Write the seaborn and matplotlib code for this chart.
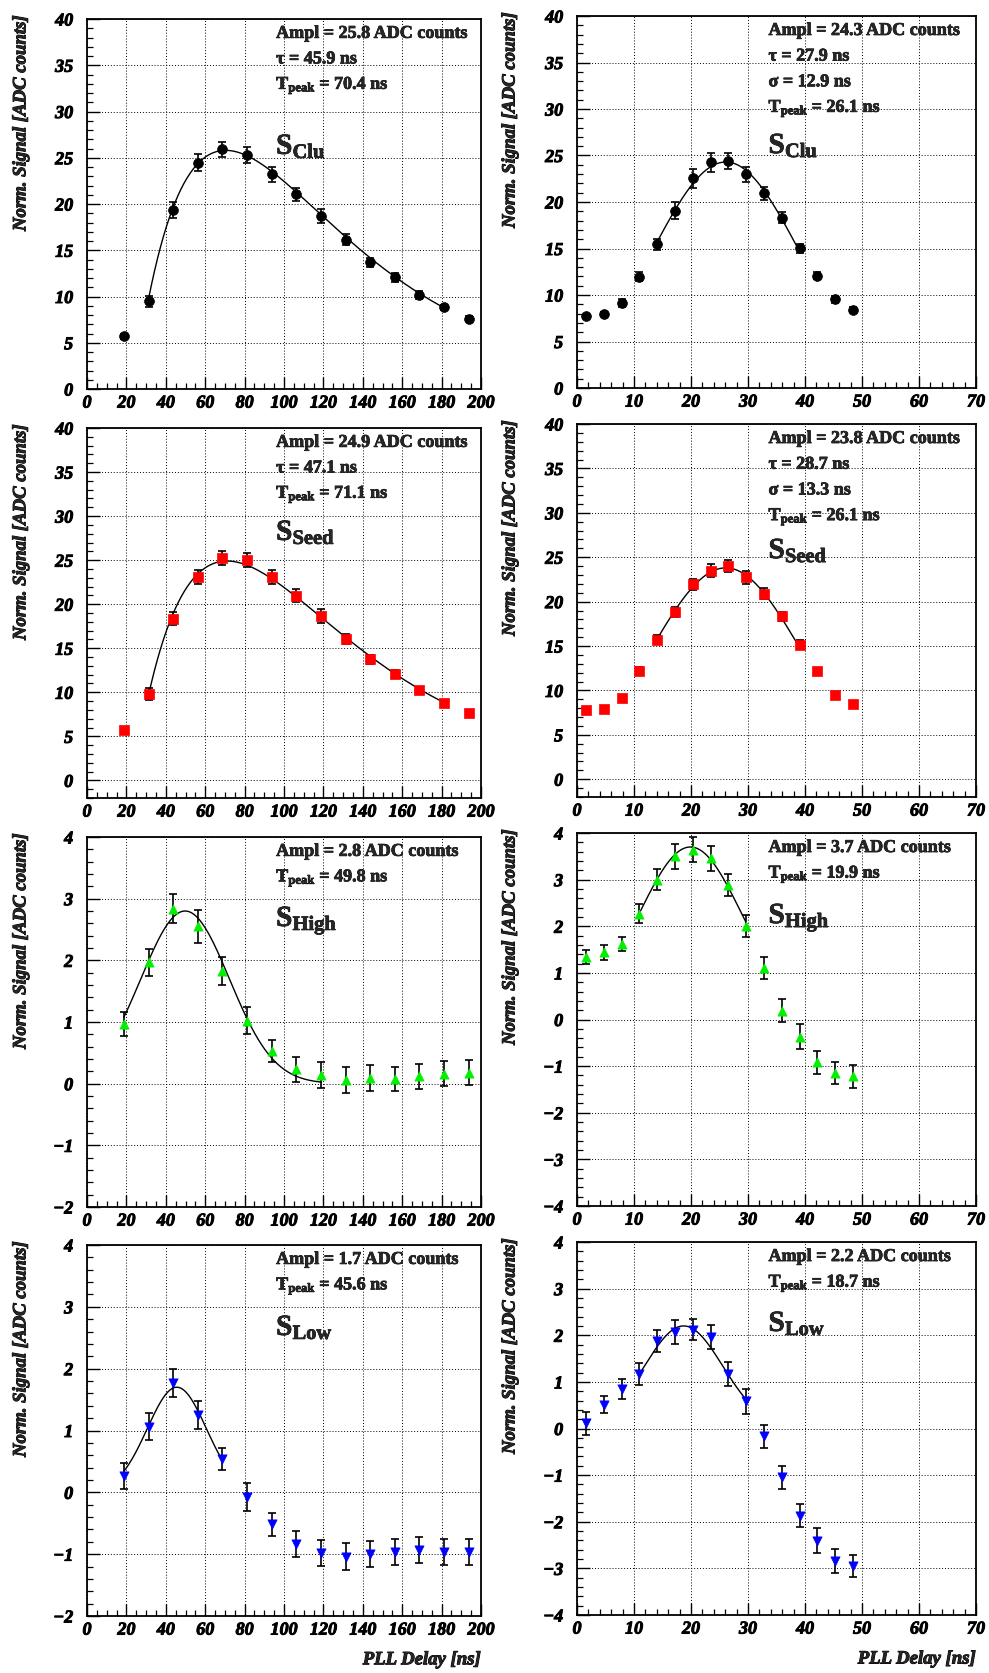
import numpy as np
import pandas as pd
import matplotlib
matplotlib.use("Agg")
import matplotlib.pyplot as plt
import matplotlib.patheffects as pe
import seaborn as sns
from matplotlib.ticker import MultipleLocator
from matplotlib.font_manager import FontProperties

sns.set_theme(style="white")
plt.rcParams['font.family'] = ['Liberation Serif', 'DejaVu Serif']
plt.rcParams['mathtext.fontset'] = 'custom'
plt.rcParams['mathtext.rm'] = 'Liberation Serif:bold'
plt.rcParams['mathtext.it'] = 'Liberation Serif:bold:italic'
plt.rcParams['mathtext.bf'] = 'Liberation Serif:bold'

# ---------------- data ----------------
delay_left = [18.75, 31.25, 43.75, 56.25, 68.75, 81.25, 93.75, 106.25, 118.75,
              131.25, 143.75, 156.25, 168.75, 181.25, 193.75]
delay_right = [1.5625, 4.6875, 7.8125, 10.9375, 14.0625, 17.1875, 20.3125, 23.4375,
               26.5625, 29.6875, 32.8125, 35.9375, 39.0625, 42.1875, 45.3125, 48.4375]

clu_left = [5.69, 9.47, 19.37, 24.48, 25.92, 25.3, 23.2, 21.06, 18.72, 16.13, 13.7, 12.06, 10.19, 8.82, 7.6]
clu_left_err = [0.25, 0.6, 0.9, 0.9, 0.8, 0.9, 0.85, 0.7, 0.75, 0.6, 0.5, 0.5, 0.45, 0.3, 0.3]
clu_right = [7.69, 7.94, 9.12, 11.95, 15.46, 19.07, 22.54, 24.26, 24.36, 22.97, 20.93, 18.32, 15.03, 12.09, 9.52, 8.41]
clu_right_err = [0.2, 0.2, 0.43, 0.48, 0.6, 0.9, 1.0, 1.0, 0.86, 0.8, 0.7, 0.6, 0.5, 0.4, 0.35, 0.25]

seed_left = [5.69, 9.78, 18.35, 23.05, 25.21, 25.02, 23.05, 20.97, 18.65, 16.08, 13.73, 12.13, 10.24, 8.83, 7.66]
seed_left_err = [0.25, 0.7, 0.75, 0.8, 0.8, 0.8, 0.8, 0.7, 0.75, 0.55, 0.5, 0.45, 0.4, 0.3, 0.3]
seed_right = [7.75, 7.94, 9.14, 12.15, 15.73, 18.85, 21.94, 23.48, 24.01, 22.73, 20.88, 18.33, 15.16, 12.15, 9.52, 8.5]
seed_right_err = [0.2, 0.2, 0.35, 0.45, 0.5, 0.6, 0.6, 0.7, 0.7, 0.7, 0.6, 0.55, 0.5, 0.4, 0.3, 0.25]

high_left = [0.97, 1.97, 2.84, 2.55, 1.83, 1.02, 0.53, 0.23, 0.146, 0.054, 0.092, 0.076, 0.12, 0.16, 0.18]
high_left_err = [0.19, 0.22, 0.23, 0.27, 0.23, 0.22, 0.18, 0.21, 0.21, 0.21, 0.21, 0.2, 0.2, 0.2, 0.2]
high_right = [1.34, 1.44, 1.62, 2.27, 3.0, 3.5, 3.64, 3.46, 2.88, 2.01, 1.10, 0.19, -0.365, -0.92, -1.15, -1.22]
high_right_err = [0.16, 0.16, 0.16, 0.2, 0.23, 0.27, 0.27, 0.27, 0.24, 0.23, 0.23, 0.24, 0.27, 0.24, 0.24, 0.25]

low_left = [0.26, 1.06, 1.77, 1.25, 0.545, -0.076, -0.52, -0.83, -0.98, -1.04, -0.99, -0.97, -0.94, -0.97, -0.96]
low_left_err = [0.21, 0.22, 0.23, 0.23, 0.18, 0.22, 0.19, 0.21, 0.21, 0.22, 0.21, 0.21, 0.21, 0.21, 0.21]
low_right = [0.11, 0.51, 0.85, 1.17, 1.88, 2.07, 2.12, 1.96, 1.17, 0.58, -0.17, -1.05, -1.87, -2.41, -2.84, -2.95]
low_right_err = [0.25, 0.18, 0.22, 0.24, 0.24, 0.25, 0.23, 0.25, 0.25, 0.27, 0.24, 0.25, 0.25, 0.27, 0.25, 0.23]

# fit parameters (as printed on the chart, plus a small pedestal) and fit ranges
fit_clu_left = dict(kind="crrc", ampl=25.8, tau=45.9, tpeak=70.4, base=1.3, rng=(31.25, 181.25))
fit_clu_right = dict(kind="gaus", ampl=24.3, sigma=12.9, tpeak=26.1, rng=(14.0625, 39.0625))
fit_seed_left = dict(kind="crrc", ampl=24.9, tau=47.1, tpeak=71.1, base=1.2, rng=(31.25, 181.25))
fit_seed_right = dict(kind="gaus", ampl=23.8, sigma=13.3, tpeak=26.1, rng=(14.0625, 39.0625))
fit_high_left = dict(kind="gaus", ampl=2.8, sigma=22.5, tpeak=49.8, rng=(18.75, 118.75))
fit_high_right = dict(kind="gaus", ampl=3.7, sigma=9.1, tpeak=19.9, rng=(10.9375, 29.6875))
fit_low_left = dict(kind="gaus", ampl=1.7, sigma=15.0, tpeak=45.6, rng=(18.75, 68.75))
fit_low_right = dict(kind="gaus", ampl=2.2, sigma=6.9, tpeak=18.7, rng=(10.9375, 29.6875))

text_clu_left = ["Ampl = 25.8 ADC counts", r"τ = 45.9 ns", r"T$_{\rm peak}$ = 70.4 ns"]
text_clu_right = ["Ampl = 24.3 ADC counts", r"τ = 27.9 ns", r"σ = 12.9 ns", r"T$_{\rm peak}$ = 26.1 ns"]
text_seed_left = ["Ampl = 24.9 ADC counts", r"τ = 47.1 ns", r"T$_{\rm peak}$ = 71.1 ns"]
text_seed_right = ["Ampl = 23.8 ADC counts", r"τ = 28.7 ns", r"σ = 13.3 ns", r"T$_{\rm peak}$ = 26.1 ns"]
text_high_left = ["Ampl = 2.8 ADC counts", r"T$_{\rm peak}$ = 49.8 ns"]
text_high_right = ["Ampl = 3.7 ADC counts", r"T$_{\rm peak}$ = 19.9 ns"]
text_low_left = ["Ampl = 1.7 ADC counts", r"T$_{\rm peak}$ = 45.6 ns"]
text_low_right = ["Ampl = 2.2 ADC counts", r"T$_{\rm peak}$ = 18.7 ns"]

ylabel = "Norm. Signal [ADC counts]"
xlabel = "PLL Delay [ns]"

# ---------------- layout ----------------
W, H = 989, 1673
fig = plt.figure(figsize=(W / 100, H / 100), dpi=100)

BI = dict(family=["Liberation Serif", "DejaVu Serif"], style="italic", weight="bold")
tick_fp = FontProperties(size=13, **BI)
heavy = [pe.withStroke(linewidth=0.7, foreground="black")]
heavy_s = [pe.withStroke(linewidth=0.5, foreground="black")]


def rect(x0, x1, top, bottom):
    return [x0 / W, 1 - bottom / H, (x1 - x0) / W, (bottom - top) / H]


def fit_curve(p):
    t = np.linspace(p["rng"][0], p["rng"][1], 300)
    if p["kind"] == "crrc":
        u = (t - (p["tpeak"] - p["tau"])) / p["tau"]
        b = p["base"]
        v = (p["ampl"] - b) * u * np.exp(1 - u) + b
    else:
        v = p["ampl"] * np.exp(-0.5 * ((t - p["tpeak"]) / p["sigma"]) ** 2)
    return t, v


def panel(r, x, y, err, marker, color, msize, xlim, xmaj, xmin, ylim, ymaj, ymin,
          fit, lines, sname, s_y, bottom_row=False):
    ax = fig.add_axes(r)
    ax.set_facecolor("white")
    ax.set_xlim(*xlim)
    ax.set_ylim(*ylim)
    ax.xaxis.set_major_locator(MultipleLocator(xmaj))
    ax.xaxis.set_minor_locator(MultipleLocator(xmin))
    ax.yaxis.set_major_locator(MultipleLocator(ymaj))
    ax.yaxis.set_minor_locator(MultipleLocator(ymin))
    ax.grid(True, which="major", color="black", linestyle=(0, (1, 2)), linewidth=0.7)
    ax.set_axisbelow(True)
    for s in ax.spines.values():
        s.set_color("black")
        s.set_linewidth(1.3)
        s.set_visible(True)
    ax.tick_params(axis="both", which="both", direction="in", top=False, right=False,
                   bottom=True, left=True, colors="black")
    ax.tick_params(axis="both", which="major", length=9, width=1.0)
    ax.tick_params(axis="both", which="minor", length=4.5, width=0.9)
    ax.tick_params(axis="y", which="major", pad=10)
    ax.tick_params(axis="x", which="major", pad=4)

    ax.errorbar(x, y, yerr=err, fmt="none", ecolor="black", elinewidth=1.2,
                capsize=3, capthick=1.2, zorder=3)
    fx, fy = fit_curve(fit)
    sns.lineplot(x=fx, y=fy, ax=ax, color="black", linewidth=1.0, sort=False,
                 estimator=None, zorder=4)
    df = pd.DataFrame({"x": x, "y": y})
    sns.scatterplot(data=df, x="x", y="y", ax=ax, marker=marker, color=color, s=msize,
                    edgecolor=color, linewidth=0.5, zorder=5)
    ax.set_xlabel("")
    ax.set_ylabel("")

    ax.text(-0.168, 1.01, ylabel, transform=ax.transAxes, rotation=90, ha="center",
            va="top", fontsize=13.5, path_effects=heavy, **BI)
    for k, t in enumerate(lines):
        ax.text(0.48, 0.949 - 0.069 * k, t, transform=ax.transAxes, ha="left",
                va="baseline", fontsize=13, fontweight="bold", fontstyle="normal",
                path_effects=heavy_s)
    ax.text(0.48, s_y, r"S$_{\rm " + sname + "}$", transform=ax.transAxes, ha="left",
            va="baseline", fontsize=21, fontweight="bold", fontstyle="normal",
            path_effects=heavy_s)
    if bottom_row:
        ax.text(1.0, -0.118, xlabel, transform=ax.transAxes, ha="right", va="center",
                fontsize=13.5, path_effects=heavy, **BI)
    return ax


L = (87, 481)
R = (577, 976)

panel(rect(*L, 19, 389), delay_left, clu_left, clu_left_err, "o", "black", 50,
      (0, 200), 20, 5, (0, 40), 5, 1, fit_clu_left, text_clu_left, "Clu", 0.635)
panel(rect(*R, 16, 388), delay_right, clu_right, clu_right_err, "o", "black", 50,
      (0, 70), 10, 2, (0, 40), 5, 1, fit_clu_right, text_clu_right, "Clu", 0.631)

panel(rect(*L, 428, 798), delay_left, seed_left, seed_left_err, "s", "#ff0000", 42,
      (0, 200), 20, 5, (-2, 40), 5, 1, fit_seed_left, text_seed_left, "Seed", 0.697)
panel(rect(*R, 424, 797), delay_right, seed_right, seed_right_err, "s", "#ff0000", 42,
      (0, 70), 10, 2, (-2, 40), 5, 1, fit_seed_right, text_seed_right, "Seed", 0.640)

panel(rect(*L, 837, 1207), delay_left, high_left, high_left_err, "^", "#00f000", 44,
      (0, 200), 20, 5, (-2, 4), 1, 0.2, fit_high_left, text_high_left, "High", 0.759)
panel(rect(*R, 833, 1206), delay_right, high_right, high_right_err, "^", "#00f000", 44,
      (0, 70), 10, 2, (-4, 4), 1, 0.2, fit_high_right, text_high_right, "High", 0.758)

panel(rect(*L, 1245, 1616), delay_left, low_left, low_left_err, "v", "#0000ff", 44,
      (0, 200), 20, 5, (-2, 4), 1, 0.2, fit_low_left, text_low_left, "Low", 0.757,
      bottom_row=True)
panel(rect(*R, 1242, 1615), delay_right, low_right, low_right_err, "v", "#0000ff", 44,
      (0, 70), 10, 2, (-4, 4), 1, 0.2, fit_low_right, text_low_right, "Low", 0.761,
      bottom_row=True)

# bold italic tick labels (ticks exist after a first draw)
fig.canvas.draw()
for ax in fig.axes:
    for lbl in ax.get_xticklabels() + ax.get_yticklabels():
        lbl.set_fontproperties(tick_fp)
        lbl.set_path_effects(heavy)

fig.savefig("out.png", dpi=100, facecolor="white")
